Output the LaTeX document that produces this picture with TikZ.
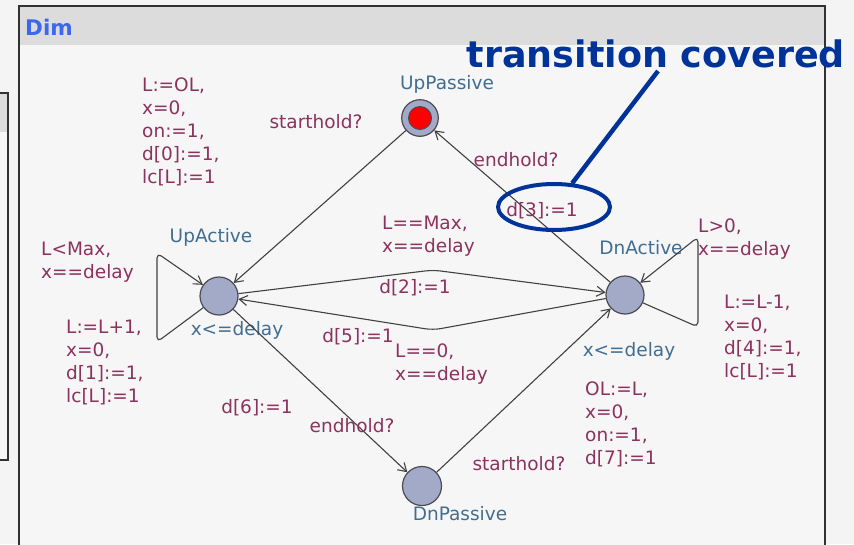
\documentclass[tikz,border=0pt]{standalone}
\usepackage{fontspec}
\setmainfont{DejaVu Sans}
\usetikzlibrary{arrows.meta,shapes.geometric}
\definecolor{bgc}{RGB}{244,244,244}
\definecolor{winbg}{RGB}{246,246,246}
\definecolor{hdr}{RGB}{220,220,220}
\definecolor{frame}{RGB}{50,50,50}
\definecolor{dimc}{RGB}{60,105,235}
\definecolor{navy}{RGB}{0,51,153}
\definecolor{locc}{RGB}{65,110,145}
\definecolor{labc}{RGB}{140,50,95}
\definecolor{locfill}{RGB}{163,170,200}
\definecolor{locline}{RGB}{75,75,85}
\definecolor{edgec}{RGB}{65,65,65}
\begin{document}
\begin{tikzpicture}[x=1pt,y=-1pt,
  loc/.style={circle,draw=locline,line width=1.2pt,fill=locfill,minimum size=38pt,inner sep=0pt},
  trans/.style={draw=edgec,line width=1.1pt,-{Straight Barb[length=8pt,width=10pt]}},
  lname/.style={text=locc,font=\fontsize{18.5}{23}\selectfont,inner sep=0pt,anchor=base},
  lab/.style={text=labc,font=\fontsize{18.5}{23}\selectfont,inner sep=0pt,anchor=base},
  labm/.style={text=labc,font=\fontsize{18.5}{23}\selectfont,inner sep=0pt,anchor=north west,align=left},
  hl/.style={draw=navy,line width=4pt}]
\useasboundingbox (0,0) rectangle (854,544);
\clip (0,0) rectangle (854,544);
\fill[bgc] (0,0) rectangle (854,544);
% left background window
\draw[frame,line width=1.5pt,fill=winbg] (-10,93) rectangle (8,460);
\fill[hdr] (-10,94) rectangle (7.2,132);
% main window
\draw[frame,line width=1.8pt,fill=winbg] (19,6) rectangle (825,570);
\fill[hdr] (19.9,6.9) rectangle (824.1,45);
\node[text=dimc,font=\bfseries\fontsize{21.5}{24}\selectfont,anchor=base west,inner sep=0pt] (dim) at (25,35) {Dim};

% locations
\node[loc,minimum size=36.6pt] (P) at (420,118) {};
\node[circle,draw=locline,line width=1pt,fill=red,minimum size=23pt,inner sep=0pt] (Pin) at (420,118) {};
\node[loc] (U) at (219,296) {};
\node[loc] (D) at (625,295) {};
\node[loc,minimum size=39pt] (Q) at (422,486) {};

\node[lname] (nP) at (447,89) {UpPassive};
\node[lname] (nU) at (211,242) {UpActive};
\node[lname] (nD) at (641,254) {DnActive};
\node[lname] (nQ) at (460,520) {DnPassive};
\node[lname] (iU) at (237,335) {x<=delay};
\node[lname] (iD) at (629,356) {x<=delay};

% nails
\coordinate (na) at (433,270);
\coordinate (nb) at (433,330);
\coordinate (ult) at (157,253);
\coordinate (ulb) at (157,342);
\coordinate (drt) at (698,237);
\coordinate (drb) at (698,327);

% transitions
\draw[trans] (P) -- (U);
\draw[trans] (D) -- (P);
\draw[trans,rounded corners=8pt] (U) -- (na) -- (D);
\draw[trans,rounded corners=8pt] (D) -- (nb) -- (U);
\draw[trans,rounded corners=5pt] (U) -- (ulb) -- (ult) -- (U);
\draw[trans,rounded corners=5pt] (D) -- (drb) -- (drt) -- (D);
\draw[trans] (U) -- (Q);
\draw[trans] (Q) -- (D);

% labels
\node[lab] (s1) at (316,128) {starthold?};
\node[labm] (a1) at (142,77.5) {L:=OL,\\x=0,\\on:=1,\\d[0]:=1,\\lc[L]:=1};
\node[lab] (s2) at (516,166) {endhold?};
\node[lab] (a2) at (542,216) {d[3]:=1};
\node[labm] (g1) at (382,215.5) {L==Max,\\x==delay};
\node[lab] (a3) at (415,293) {d[2]:=1};
\node[lab] (a4) at (358,342) {d[5]:=1};
\node[labm] (g2) at (395,343.5) {L==0,\\x==delay};
\node[labm] (g3) at (41,241.5) {L<Max,\\x==delay};
\node[labm] (a5) at (66,319.5) {L:=L+1,\\x=0,\\d[1]:=1,\\lc[L]:=1};
\node[labm] (g4) at (698,218.5) {L>0,\\x==delay};
\node[labm] (a6) at (724,294.5) {L:=L-1,\\x=0,\\d[4]:=1,\\lc[L]:=1};
\node[lab] (a7) at (257,413) {d[6]:=1};
\node[lab] (s3) at (352,432) {endhold?};
\node[lab] (s4) at (519,470) {starthold?};
\node[labm] (a8) at (585,381.5) {OL:=L,\\x=0,\\on:=1,\\d[7]:=1};

% highlight
\node[hl,ellipse,minimum width=112pt,minimum height=46pt,inner sep=0pt] (hle) at (554,207) {};
\node[text=navy,font=\bfseries\fontsize{36.5}{40}\selectfont,anchor=base,inner sep=0pt] (tc) at (656,67) {transition covered};
\coordinate (tcp) at (658,71);
\draw[draw=navy,line width=4.5pt] (tcp) -- (hle);
\end{tikzpicture}
\end{document}
